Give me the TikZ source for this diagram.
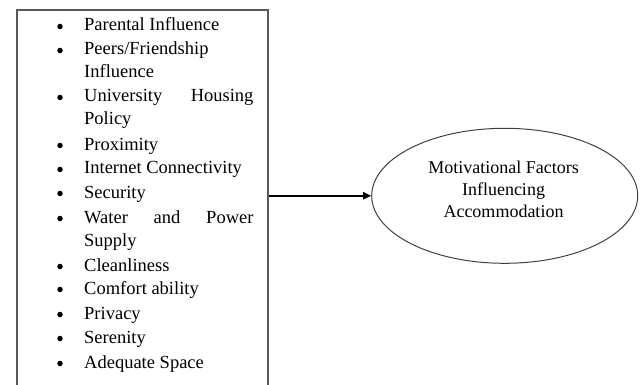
\documentclass[tikz,border=0pt]{standalone}
\usepackage{fontspec}
\setmainfont{Liberation Serif}
\usetikzlibrary{shapes.geometric,arrows.meta}
\definecolor{framegray}{HTML}{595959}
\definecolor{ringgray}{HTML}{404040}
\hbadness=10000
\tolerance=10000
\hyphenpenalty=10000
\tikzset{
  item/.style={anchor=base west, inner sep=0pt, text width=169.3pt, align=justify,
    font=\fontsize{18.5}{23}\selectfont},
  dot/.style={circle, fill=black, inner sep=0pt, minimum size=5.5pt},
}
\begin{document}
\begin{tikzpicture}[x=1pt,y=-1pt]
  \clip (0,0) rectangle (640,385);
  % list frame, runs off the bottom
  \node[draw=framegray, line width=1.6pt, anchor=north west, inner sep=0pt,
    minimum width=251pt, minimum height=420pt] (factors) at (16,9) {};
  \draw
    (60,26.5) node[dot] (b1){}
    (60,50.5) node[dot] (b2){}
    (60,97.5) node[dot] (b3){}
    (60,145.5) node[dot] (b4){}
    (60,169.5) node[dot] (b5){}
    (60,193.5) node[dot] (b6){}
    (60,218.5) node[dot] (b7){}
    (60,266.5) node[dot] (b8){}
    (60,289.5) node[dot] (b9){}
    (60,314.5) node[dot] (b10){}
    (60,338.5) node[dot] (b11){}
    (60,363.5) node[dot] (b12){};
  \draw
    (84,31) node[item] (parental){Parental Influence}
    (84,55) node[item] (peers){Peers/Friendship Influence}
    (84,102) node[item] (housing){University Housing Policy}
    (84,150) node[item] (proximity){Proximity}
    (84,174) node[item] (internet){Internet Connectivity}
    (84,198) node[item] (security){Security}
    (84,223) node[item] (supply){Water and Power Supply}
    (84,271) node[item] (clean){Cleanliness}
    (84,294) node[item] (comfort){Comfort ability}
    (84,319) node[item] (privacy){Privacy}
    (84,343) node[item] (serenity){Serenity}
    (84,368) node[item] (space){Adequate Space};
  % outcome
  \node[ellipse, draw=ringgray, line width=1pt, inner sep=0pt,
    minimum width=266pt, minimum height=135pt] (motive) at (504.7,195.8) {};
  \node[anchor=base, inner sep=0pt, align=center, font=\fontsize{18}{22}\selectfont]
    (motivetext) at (503.5,217) {Motivational Factors\\Influencing\\Accommodation};
  \begin{scope}[-{Triangle[length=8pt,width=7pt]}, line width=2pt]
    \draw (motive.west -| factors.east) to (motive.west);
  \end{scope}
\end{tikzpicture}
\end{document}
